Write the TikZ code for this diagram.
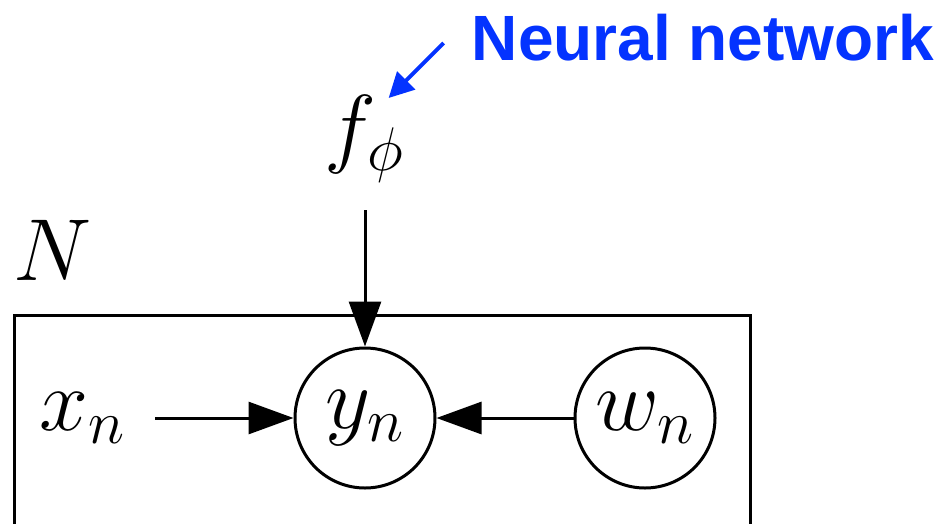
\RequirePackage{fix-cm}
\documentclass[tikz,border=0pt]{standalone}
\usepackage{fontspec}
\usetikzlibrary{arrows.meta,calc}
\newfontfamily\nnfont{Liberation Sans}
\definecolor{nnblue}{RGB}{4,51,255}
\tikzset{
  lw/.style={line width=3pt},
  var/.style={circle,draw,lw,minimum size=140pt,inner sep=0pt,font=\fontsize{88}{100}\selectfont},
  lbl/.style={inner sep=0pt,font=\fontsize{88}{100}\selectfont},
  arr/.style={lw,-{Triangle[length=45pt,width=32pt]}},
  bluearr/.style={nnblue,line width=4pt,-{Triangle[length=25pt,width=25pt]}}
}
\begin{document}
\begin{tikzpicture}[x=1pt,y=-1pt]
\useasboundingbox (0,0) rectangle (948,523);
\begin{scope}
\clip (0,0) rectangle (948,523);
\coordinate (plateA) at (14,315);
\coordinate (plateB) at (750,560);
\draw[lw] (plateA) rectangle (plateB);
\end{scope}
\node[lbl] (N) at (53,250) {$N$};
\node[var] (y) at (365,418) {$y_n$};
\node[var] (w) at (645,418) {$w_n$};
\node[lbl] (x) at (82,418) {$x_n$};
\node[lbl] (f) at (364,139) {$f_\phi$};
\node[inner sep=0pt,text=nnblue,font=\nnfont\bfseries\fontsize{64}{70}\selectfont] (nn) at (703,38) {Neural network};
\coordinate (ftail) at (y.north |- 0,210);
\draw[arr] (ftail) -- (y.north);
\coordinate (xtail) at (155,418);
\draw[arr] (xtail) -- (y.west);
\draw[arr] (w.west) -- (y.east);
\coordinate (nntail) at ([xshift=-28pt,yshift=-5pt]nn.west);
\coordinate (nntip) at ([xshift=-83pt,yshift=-60pt]nn.west);
\draw[bluearr] (nntail) -- (nntip);
\end{tikzpicture}
\end{document}
